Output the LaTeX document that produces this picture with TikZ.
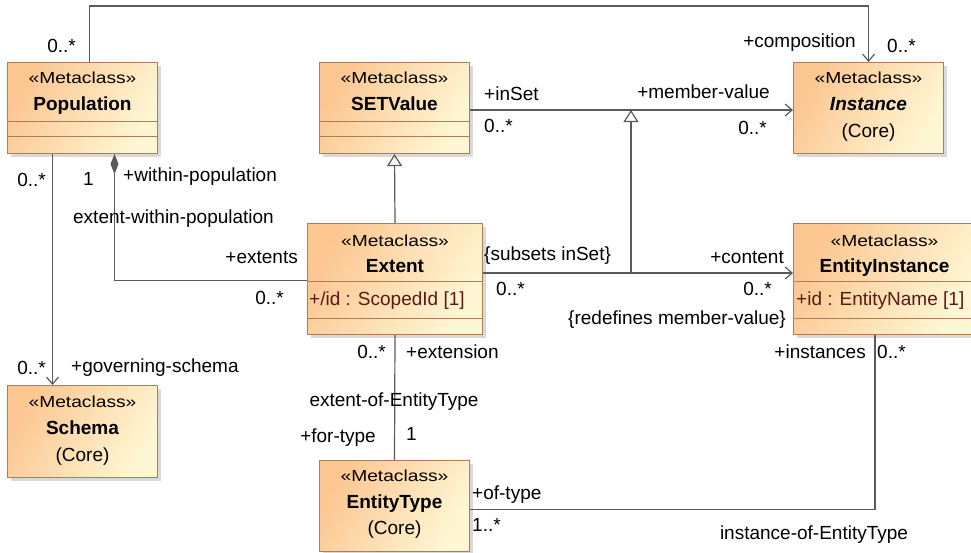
\documentclass[tikz,border=0pt]{standalone}
\usepackage{fontspec}
\setmainfont{Liberation Sans}
\newfontfamily\stereofont{Liberation Sans}[FakeStretch=1.2]
\usetikzlibrary{calc,arrows.meta,shadows}
\definecolor{clsL}{RGB}{252,198,145}
\definecolor{clsR}{RGB}{255,247,212}
\definecolor{clsborder}{RGB}{175,125,85}
\definecolor{attrcol}{RGB}{90,25,20}
\definecolor{linecol}{RGB}{90,90,90}

\begin{document}
\begin{tikzpicture}[x=1pt,y=-1pt,
  metaclass/.style={draw=clsborder, line width=1pt, top color=clsL, bottom color=clsR, shading angle=60,
    minimum width=150pt, minimum height=91pt, inner sep=0pt, anchor=north west,
    drop shadow={shadow xshift=3pt,shadow yshift=-3pt,opacity=0.3}},
  stereo/.style={font=\stereofont\fontsize{16pt}{19pt}\selectfont, inner sep=0pt, anchor=base},
  cname/.style={font=\fontsize{19pt}{22pt}\selectfont\bfseries, inner sep=0pt, anchor=base},
  core/.style={font=\fontsize{19pt}{22pt}\selectfont, inner sep=0pt, anchor=base},
  attr/.style={font=\fontsize{19pt}{22pt}\selectfont, text=attrcol, inner sep=0pt, anchor=base west},
  sep/.style={draw=clsborder, line width=1pt},
  role/.style={font=\fontsize{19pt}{22pt}\selectfont, inner sep=0pt},
  assoc/.style={draw=linecol, line width=1.2pt},
  navig/.style={assoc, -{Straight Barb[length=7pt,width=12pt]}},
  gen/.style={assoc, -{Triangle[open,fill=white,length=12pt,width=15pt]}},
  compo/.style={assoc, {Diamond[length=20pt,width=8pt]}-}]
  \useasboundingbox (0,0) rectangle (971,552);

  % CLASSES
  \node[metaclass] (pop) at (7,62) {};
  \node[metaclass] (setv) at (319,62) {};
  \node[metaclass] (inst) at (793,62) {};
  \node[metaclass, minimum width=175pt, minimum height=111pt] (ext) at (307,223) {};
  \node[metaclass, minimum width=182pt, minimum height=111pt] (ei) at (793,223) {};
  \node[metaclass, minimum height=92pt] (sch) at (7,385) {};
  \node[metaclass] (et) at (319,460) {};

  % COMPARTIMENTS
  \draw[sep] ($(pop.north west)+(0,59)$) -- ($(pop.north east)+(0,59)$);
  \draw[sep] ($(pop.north west)+(0,74)$) -- ($(pop.north east)+(0,74)$);
  \draw[sep] ($(setv.north west)+(0,59)$) -- ($(setv.north east)+(0,59)$);
  \draw[sep] ($(setv.north west)+(0,74)$) -- ($(setv.north east)+(0,74)$);
  \draw[sep] ($(ext.north west)+(0,58)$) -- ($(ext.north east)+(0,58)$);
  \draw[sep] ($(ext.north west)+(0,95)$) -- ($(ext.north east)+(0,95)$);
  \draw[sep] ($(ei.north west)+(0,58)$) -- ($(ei.north east)+(0,58)$);
  \draw[sep] ($(ei.north west)+(0,95)$) -- ($(ei.north east)+(0,95)$);

  % TEXTES DES CLASSES
  \node[stereo] (popS) at ($(pop.north)+(0,21.5)$) {«Metaclass»};
  \node[cname] (popN) at ($(pop.north)+(0,48.5)$) {Population};
  \node[stereo] (setvS) at ($(setv.north)+(0,21.5)$) {«Metaclass»};
  \node[cname] (setvN) at ($(setv.north)+(0,48.5)$) {SETValue};
  \node[stereo] (instS) at ($(inst.north)+(0,21.5)$) {«Metaclass»};
  \node[cname, font=\fontsize{19pt}{22pt}\selectfont\bfseries\itshape] (instN) at ($(inst.north)+(0,48.5)$) {Instance};
  \node[core] (instC) at ($(inst.north)+(0,75.5)$) {(Core)};
  \node[stereo] (extS) at ($(ext.north)+(0,23)$) {«Metaclass»};
  \node[cname] (extN) at ($(ext.north)+(0,49)$) {Extent};
  \node[attr] (extA) at ($(ext.north west)+(2,82)$) {+/id : ScopedId [1]};
  \node[stereo] (eiS) at ($(ei.north)+(0,23)$) {«Metaclass»};
  \node[cname] (eiN) at ($(ei.north)+(0,49)$) {EntityInstance};
  \node[attr] (eiA) at ($(ei.north west)+(3,82)$) {+id : EntityName [1]};
  \node[stereo] (schS) at ($(sch.north)+(0,22)$) {«Metaclass»};
  \node[cname] (schN) at ($(sch.north)+(0,49.5)$) {Schema};
  \node[core] (schC) at ($(sch.north)+(0,76.5)$) {(Core)};
  \node[stereo] (etS) at ($(et.north)+(0,21.5)$) {«Metaclass»};
  \node[cname] (etN) at ($(et.north)+(0,48)$) {EntityType};
  \node[core] (etC) at ($(et.north)+(0,74.5)$) {(Core)};

  % POINTS DE PASSAGE
  \coordinate (rail) at (500,6);
  \coordinate (inset) at (631,110);
  \coordinate (cont) at (631,273);

  % ASSOCIATIONS
  \draw[navig] ($(pop.north)+(7,0)$) |- (rail) -| (inst.north);
  \draw[navig] (setv.east |- inset) -- (inst.west |- inset);
  \draw[navig] (ext.east |- cont) -- (ei.west |- cont);
  \draw[gen] (cont) -- (inset);
  \draw[gen] (ext.north) -- (setv.south);
  \draw[navig] ($(pop.south)+(-30,0)$) -- ($(sch.north)+(-30,0)$);
  \draw[compo] ($(pop.south)+(32,0)$) |- ($(ext.west)+(0,1.5)$);
  \draw[assoc] (ext.south) -- (et.north);
  \draw[assoc] ($(et.east)+(0,3.5)$) -| ($(ei.south west)+(82,0)$);

  % ROLES ET MULTIPLICITES
  \node[role, anchor=east] (compM1) at (76,45.5) {0..*};
  \node[role, anchor=east] (compR) at (856,42.5) {+composition};
  \node[role, anchor=west] (compM2) at (887,45.5) {0..*};
  \node[role, anchor=west] (insetR) at (484,93.5) {+inSet};
  \node[role, anchor=west] (insetM) at (484,126) {0..*};
  \node[role, anchor=east] (memberR) at (770,92) {+member-value};
  \node[role, anchor=east] (memberM) at (767,128) {0..*};
  \node[role, anchor=east] (schM1) at (46,180) {0..*};
  \node[role, anchor=east] (withinM) at (94,178.5) {1};
  \node[role, anchor=west] (withinR) at (123,176.5) {+within-population};
  \node[role] (withinA) at (173.5,218.5) {extent-within-population};
  \node[role, anchor=east] (extentsR) at (298,257.5) {+extents};
  \node[role, anchor=east] (extentsM) at (284,297.5) {0..*};
  \node[role, anchor=west] (subsetsC) at (484,255.5) {\{subsets inSet\}};
  \node[role, anchor=west] (subsetsM) at (496,289) {0..*};
  \node[role, anchor=east] (contentR) at (784,257.5) {+content};
  \node[role, anchor=east] (contentM) at (772,289) {0..*};
  \node[role, anchor=east] (redefC) at (786,319.5) {\{redefines member-value\}};
  \node[role, anchor=east] (instancesR) at (866,351.5) {+instances};
  \node[role, anchor=west] (instancesM) at (877,351.5) {0..*};
  \node[role, anchor=east] (extensionM) at (386,351.5) {0..*};
  \node[role, anchor=west] (extensionR) at (406,351.5) {+extension};
  \node[role, anchor=east] (schM2) at (46,367.5) {0..*};
  \node[role, anchor=west] (schR) at (71,367.5) {+governing-schema};
  \node[role] (extentofA) at (394,401.5) {extent-of-EntityType};
  \node[role, anchor=east] (fortypeR) at (376,437.5) {+for-type};
  \node[role, anchor=west] (fortypeM) at (406,433.5) {1};
  \node[role, anchor=west] (oftypeR) at (472,495) {+of-type};
  \node[role, anchor=west] (oftypeM) at (472,525) {1..*};
  \node[role] (instanceofA) at (814,534.5) {instance-of-EntityType};
\end{tikzpicture}
\end{document}
